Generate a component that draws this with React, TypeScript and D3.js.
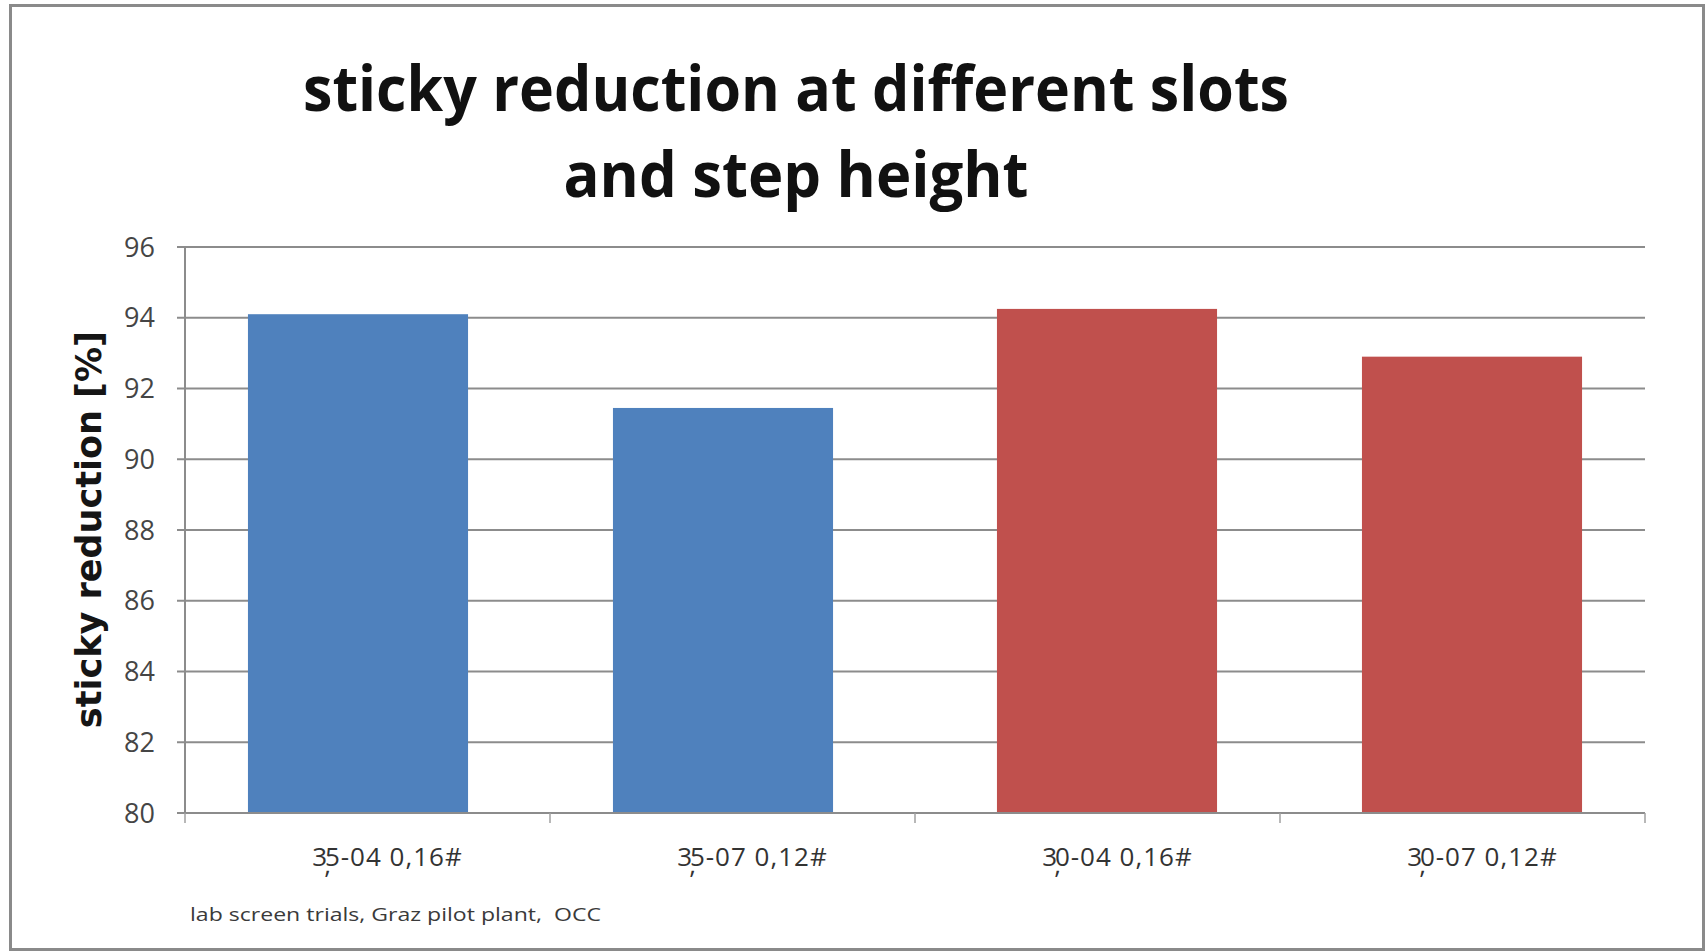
import React from "react";
import * as d3 from "d3";

// Categories (slot / step height) and the sticky reduction measured for each
const categories = ["3,5-04 0,16#", "3,5-07 0,12#", "3,0-04 0,16#", "3,0-07 0,12#"];
const seriesNames = ["3.5 mm slot", "3.0 mm slot"];
const slot35Values: (number | null)[] = [94.1, 91.45, null, null];
const slot30Values: (number | null)[] = [null, null, 94.25, 92.9];
const yTicks = [80, 82, 84, 86, 88, 90, 92, 94, 96];

const titleLines = ["sticky reduction at different slots", "and step height"];
const yAxisTitle = "sticky reduction [%]";
const footnote = "lab screen trials, Graz pilot plant,  OCC";

const W = 1708;
const H = 951;
const plot = { left: 185, right: 1645, top: 247, bottom: 813 };
const seriesColors = ["#4F81BD", "#C0504D"];

export default function App() {
  const x0 = d3
    .scaleBand<string>()
    .domain(categories)
    .range([plot.left, plot.right])
    .paddingInner(0)
    .paddingOuter(0);
  const bw = x0.bandwidth();
  const barW = bw * 0.603;
  // overlapping clustered bars: series centres sit slightly apart
  const xOff = d3.scalePoint<string>().domain(seriesNames).range([-9.5, 9.5]);
  const y = d3.scaleLinear().domain([80, 96]).range([plot.bottom, plot.top]);

  const series = [slot35Values, slot30Values];
  const bars: { key: string; x: number; y: number; w: number; h: number; fill: string }[] = [];
  series.forEach((vals, si) => {
    vals.forEach((v, ci) => {
      if (v == null) return;
      const cx = (x0(categories[ci]) as number) + bw / 2 + (xOff(seriesNames[si]) as number);
      bars.push({
        key: `${si}-${ci}`,
        x: cx - barW / 2,
        y: y(v),
        w: barW,
        h: y(80) - y(v),
        fill: seriesColors[si],
      });
    });
  });

  const boundaries = [...categories.map((c) => x0(c) as number), plot.right];

  return (
    <svg
      width={W}
      height={H}
      style={{ position: "absolute", left: 0, top: 0, background: "#fff" }}
    >
      <rect x={0} y={0} width={W} height={H} fill="#fff" />
      {/* chart frame */}
      <rect x={10.5} y={5.5} width={1693} height={944} fill="none" stroke="#8a8a8a" strokeWidth={3} />

      {/* title */}
      <g fontFamily="'Open Sans', sans-serif" fontWeight={700} fill="#111" fontSize={63}>
        <text x={796} y={111} textAnchor="middle" textLength={986} lengthAdjust="spacingAndGlyphs">
          {titleLines[0]}
        </text>
        <text x={796} y={197} textAnchor="middle" textLength={465} lengthAdjust="spacingAndGlyphs">
          {titleLines[1]}
        </text>
      </g>

      {/* horizontal gridlines and y ticks */}
      {yTicks.map((t) => (
        <line
          key={`g${t}`}
          x1={plot.left - 8}
          x2={plot.right}
          y1={y(t)}
          y2={y(t)}
          stroke="#8c8c8c"
          strokeWidth={2}
        />
      ))}
      {yTicks.map((t) => (
        <text
          key={`l${t}`}
          x={155}
          y={y(t)}
          dy="0.36em"
          textAnchor="end"
          fontFamily="'Open Sans', sans-serif"
          fontSize={27}
          fill="#454545"
        >
          {t}
        </text>
      ))}

      {/* bars */}
      {bars.map((b) => (
        <rect key={b.key} x={b.x} y={b.y} width={b.w} height={b.h} fill={b.fill} />
      ))}

      {/* axes */}
      <line x1={plot.left} x2={plot.left} y1={plot.top} y2={plot.bottom} stroke="#8c8c8c" strokeWidth={2} />
      <line x1={plot.left - 8} x2={plot.right} y1={plot.bottom} y2={plot.bottom} stroke="#8c8c8c" strokeWidth={2} />
      {boundaries.map((bx, i) => (
        <line key={`t${i}`} x1={bx} x2={bx} y1={plot.bottom} y2={plot.bottom + 10} stroke="#a0a0a0" strokeWidth={1.5} />
      ))}

      {/* category labels; the first comma hangs beneath the digits */}
      {categories.map((c) => {
        const i = c.indexOf(",");
        const head = c.slice(0, i);
        const rest = c.slice(i + 1);
        return (
          <text
            key={c}
            x={(x0(c) as number) + bw / 2 + 20}
            y={866}
            textAnchor="middle"
            fontFamily="'Open Sans', sans-serif"
            fontSize={26}
            letterSpacing={1}
            fill="#333"
          >
            {head}
            <tspan dx={-4} dy={8}>,</tspan>
            <tspan dx={-7} dy={-8}>{rest}</tspan>
          </text>
        );
      })}

      {/* y axis title */}
      <text
        transform={`translate(101,529.5) rotate(-90)`}
        textAnchor="middle"
        fontFamily="'DejaVu Sans', sans-serif"
        fontWeight={700}
        fontSize={35}
        fill="#151515"
      >
        {yAxisTitle}
      </text>

      {/* source note */}
      <text
        x={190}
        y={921}
        fontFamily="'Open Sans', sans-serif"
        fontSize={19}
        fill="#3a3a3a"
        textLength={411}
        lengthAdjust="spacingAndGlyphs"
        style={{ whiteSpace: "pre" }}
      >
        {footnote}
      </text>
    </svg>
  );
}
